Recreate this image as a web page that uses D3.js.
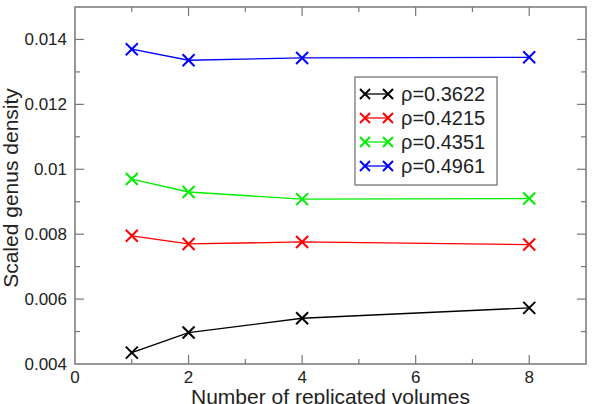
<!DOCTYPE html>
<html>
<head>
  <meta charset="utf-8">
  <title>Scaled genus density</title>
  <style>
    body { margin: 0; background: #fff; }
    text { font-family: "Liberation Sans", Arial, sans-serif; fill: #222; }
  </style>
</head>
<body>
  <svg width="594" height="404"></svg>
  <script src="https://d3js.org/d3.v7.min.js"></script>
  <script>
    // data
    var volumes = [1, 2, 4, 8];
    var rhoLabels = ["ρ=0.3622", "ρ=0.4215", "ρ=0.4351", "ρ=0.4961"];
    var colors = ["#000000", "#ff0000", "#00ee00", "#0000ff"];
    var rho3622 = [0.00435, 0.00497, 0.00541, 0.00573];
    var rho4215 = [0.00795, 0.00770, 0.00776, 0.00768];
    var rho4351 = [0.00970, 0.00930, 0.00908, 0.00910];
    var rho4961 = [0.01370, 0.01336, 0.01343, 0.01345];
    var seriesValues = [rho3622, rho4215, rho4351, rho4961];
    var xTicks = [0, 2, 4, 6, 8];
    var yTicks = [0.004, 0.006, 0.008, 0.01, 0.012, 0.014];

    var svg = d3.select("svg");
    var plotL = 75, plotR = 586, plotT = 7, plotB = 364;

    var x = d3.scaleLinear().domain([0, 9]).range([plotL, plotR]);
    var y = d3.scaleLinear().domain([0.004, 0.015]).range([plotB, plotT]);

    var frameColor = "#777";

    // ticks (inward, all four sides)
    var g = svg.append("g");
    d3.range(1, 9).forEach(function (v) {
      var len = v % 2 === 0 ? 9 : 5;
      g.append("line").attr("x1", x(v)).attr("x2", x(v)).attr("y1", plotB).attr("y2", plotB - len)
        .attr("stroke", frameColor).attr("stroke-width", 1.2);
      g.append("line").attr("x1", x(v)).attr("x2", x(v)).attr("y1", plotT).attr("y2", plotT + len)
        .attr("stroke", frameColor).attr("stroke-width", 1.2);
    });
    d3.range(5, 15).forEach(function (k) {
      var v = k / 1000;
      var len = k % 2 === 0 ? 9 : 5;
      g.append("line").attr("x1", plotL).attr("x2", plotL + len).attr("y1", y(v)).attr("y2", y(v))
        .attr("stroke", frameColor).attr("stroke-width", 1.2);
      g.append("line").attr("x1", plotR).attr("x2", plotR - len).attr("y1", y(v)).attr("y2", y(v))
        .attr("stroke", frameColor).attr("stroke-width", 1.2);
    });

    svg.append("rect").attr("x", plotL).attr("y", plotT).attr("width", plotR - plotL).attr("height", plotB - plotT)
      .attr("fill", "none").attr("stroke", frameColor).attr("stroke-width", 1.5);

    // tick labels
    svg.selectAll(".xl").data(xTicks).enter().append("text")
      .attr("x", function (d) { return x(d); }).attr("y", plotB + 19)
      .attr("text-anchor", "middle").attr("font-size", 17)
      .text(function (d) { return d; });
    svg.selectAll(".yl").data(yTicks).enter().append("text")
      .attr("x", plotL - 8).attr("y", function (d) { return y(d) + 6; })
      .attr("text-anchor", "end").attr("font-size", 17)
      .text(function (d) { return d3.format("~g")(d); });

    // axis titles
    svg.append("text").attr("x", x(4.5)).attr("y", 404).attr("text-anchor", "middle")
      .attr("font-size", 21).text("Number of replicated volumes");
    svg.append("text").attr("transform", "translate(18,188) rotate(-90)")
      .attr("text-anchor", "middle").attr("font-size", 21).text("Scaled genus density");

    // lines + markers
    var line = d3.line().x(function (d, i) { return x(volumes[i]); }).y(function (d) { return y(d); });
    function cross(sel, cx, cy, c, s) {
      sel.append("path")
        .attr("d", "M" + (cx - s) + "," + (cy - s) + "L" + (cx + s) + "," + (cy + s) +
          "M" + (cx - s) + "," + (cy + s) + "L" + (cx + s) + "," + (cy - s))
        .attr("stroke", c).attr("stroke-width", 2).attr("fill", "none");
    }
    seriesValues.forEach(function (vals, si) {
      svg.append("path").datum(vals).attr("d", line)
        .attr("fill", "none").attr("stroke", colors[si]).attr("stroke-width", 1.3);
      vals.forEach(function (v, i) {
        cross(svg, x(volumes[i]), y(v), colors[si], 6);
      });
    });

    // legend
    var lg = svg.append("g");
    lg.append("rect").attr("x", 355).attr("y", 77).attr("width", 142).attr("height", 108)
      .attr("fill", "#fff").attr("stroke", frameColor).attr("stroke-width", 1.3);
    rhoLabels.forEach(function (lab, i) {
      var cy = 94 + i * 24;
      lg.append("line").attr("x1", 365).attr("x2", 388).attr("y1", cy).attr("y2", cy)
        .attr("stroke", colors[i]).attr("stroke-width", 1.3);
      cross(lg, 365, cy, colors[i], 5);
      cross(lg, 388, cy, colors[i], 5);
      lg.append("text").attr("x", 401).attr("y", cy + 7).attr("font-size", 20).text(lab);
    });
  </script>
</body>
</html>
